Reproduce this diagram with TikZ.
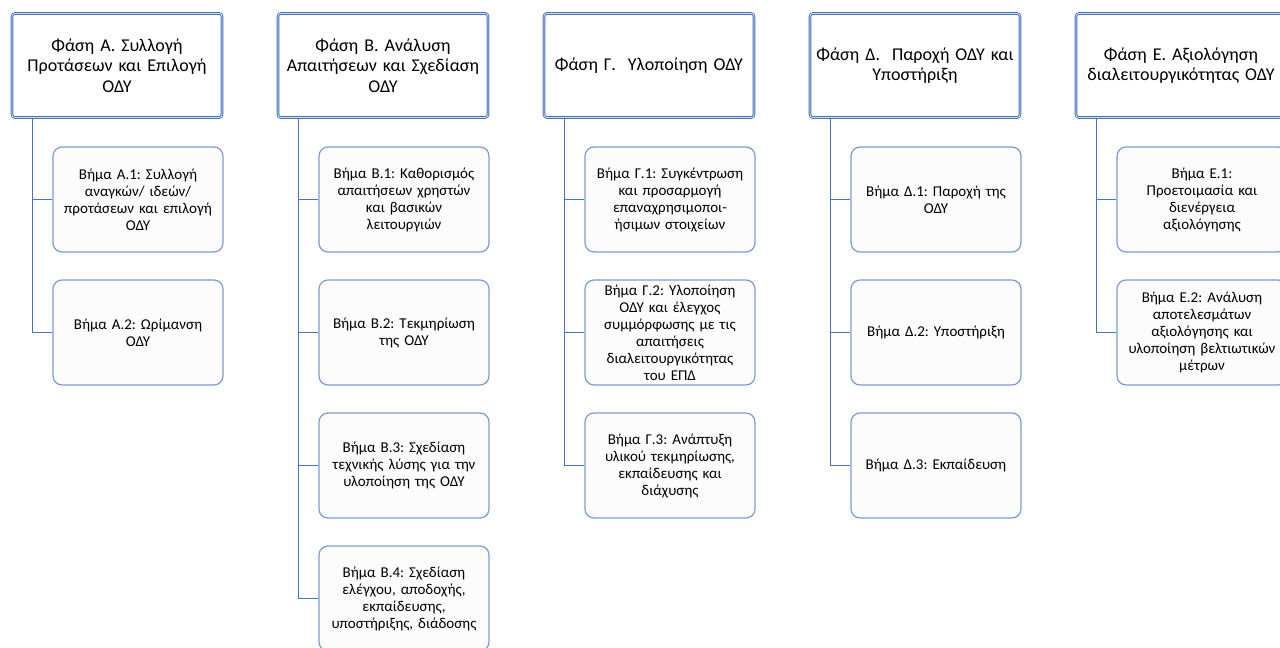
\documentclass[tikz,border=0pt]{standalone}
\usepackage{fontspec}
\setmainfont{Carlito}
\frenchspacing
\definecolor{linkblue}{RGB}{68,114,196}
\definecolor{stepblue}{RGB}{122,156,214}
\definecolor{stepfill}{RGB}{252,252,252}
\begin{document}
\begin{tikzpicture}[x=1pt,y=-1pt,
  phase/.style={draw=linkblue,double=stepblue!35,double distance=0.9pt,line width=0.9pt,
    rounded corners=3pt,fill=white,minimum width=210pt,minimum height=104pt,
    text width=206pt,align=center,inner sep=0pt,font=\fontsize{18}{20.5}\selectfont},
  stepbox/.style={draw=stepblue,line width=1.2pt,rounded corners=9pt,fill=stepfill,
    minimum width=170pt,minimum height=105pt,text width=168pt,align=center,inner sep=0pt,
    font=\fontsize{15}{17}\selectfont},
  link/.style={draw=linkblue,line width=1.3pt}]
\useasboundingbox (0,0) rectangle (1280,648);
\begin{scope}
\clip (0,0) rectangle (1280,648);
% phases
\node[phase] (phA) at (117,65.5) {Φάση Α. Συλλογή\\Προτάσεων και Επιλογή\\ΟΔΥ};
\node[phase] (phB) at (383,65.5) {Φάση Β. Ανάλυση\\Απαιτήσεων και Σχεδίαση\\ΟΔΥ};
\node[phase] (phC) at (649,65.5) {Φάση Γ.\ \ Υλοποίηση ΟΔΥ};
\node[phase] (phD) at (915,65.5) {Φάση Δ.\ \ Παροχή ΟΔΥ και\\Υποστήριξη};
\node[phase] (phE) at (1181,65.5) {Φάση Ε. Αξιολόγηση\\διαλειτουργικότητας ΟΔΥ};
% steps
\node[stepbox] (stA1) at (138,199.5) {Βήμα Α.1: Συλλογή\\αναγκών/ ιδεών/\\προτάσεων και επιλογή\\ΟΔΥ};
\node[stepbox] (stA2) at (138,332.5) {Βήμα Α.2: Ωρίμανση\\ΟΔΥ};
\node[stepbox] (stB1) at (404,199.5) {Βήμα Β.1: Καθορισμός\\απαιτήσεων χρηστών\\και βασικών\\λειτουργιών};
\node[stepbox] (stB2) at (404,332.5) {Βήμα Β.2: Τεκμηρίωση\\της ΟΔΥ};
\node[stepbox] (stB3) at (404,465.5) {Βήμα Β.3: Σχεδίαση\\τεχνικής λύσης για την\\υλοποίηση της ΟΔΥ};
\node[stepbox] (stB4) at (404,598.5) {Βήμα Β.4: Σχεδίαση\\ελέγχου, αποδοχής,\\εκπαίδευσης,\\υποστήριξης, διάδοσης};
\node[stepbox] (stC1) at (670,199.5) {Βήμα Γ.1: Συγκέντρωση\\και προσαρμογή\\επαναχρησιμοποι-\\ήσιμων στοιχείων};
\node[stepbox] (stC2) at (670,332.5) {Βήμα Γ.2: Υλοποίηση\\ΟΔΥ και έλεγχος\\συμμόρφωσης με τις\\απαιτήσεις\\διαλειτουργικότητας\\του ΕΠΔ};
\node[stepbox] (stC3) at (670,465.5) {Βήμα Γ.3: Ανάπτυξη\\υλικού τεκμηρίωσης,\\εκπαίδευσης και\\διάχυσης};
\node[stepbox] (stD1) at (936,199.5) {Βήμα Δ.1: Παροχή της\\ΟΔΥ};
\node[stepbox] (stD2) at (936,332.5) {Βήμα Δ.2: Υποστήριξη};
\node[stepbox] (stD3) at (936,465.5) {Βήμα Δ.3: Εκπαίδευση};
\node[stepbox] (stE1) at (1202,199.5) {Βήμα Ε.1:\\Προετοιμασία και\\διενέργεια\\αξιολόγησης};
\node[stepbox] (stE2) at (1202,332.5) {Βήμα Ε.2: Ανάλυση\\αποτελεσμάτων\\αξιολόγησης και\\υλοποίηση βελτιωτικών\\μέτρων};
% links
\foreach \p/\s in {A/A1,A/A2,B/B1,B/B2,B/B3,B/B4,C/C1,C/C2,C/C3,D/D1,D/D2,D/D3,E/E1,E/E2}
  \draw[link] ([xshift=21pt]ph\p.south west) |- (st\s.west);
\end{scope}
\end{tikzpicture}
\end{document}
